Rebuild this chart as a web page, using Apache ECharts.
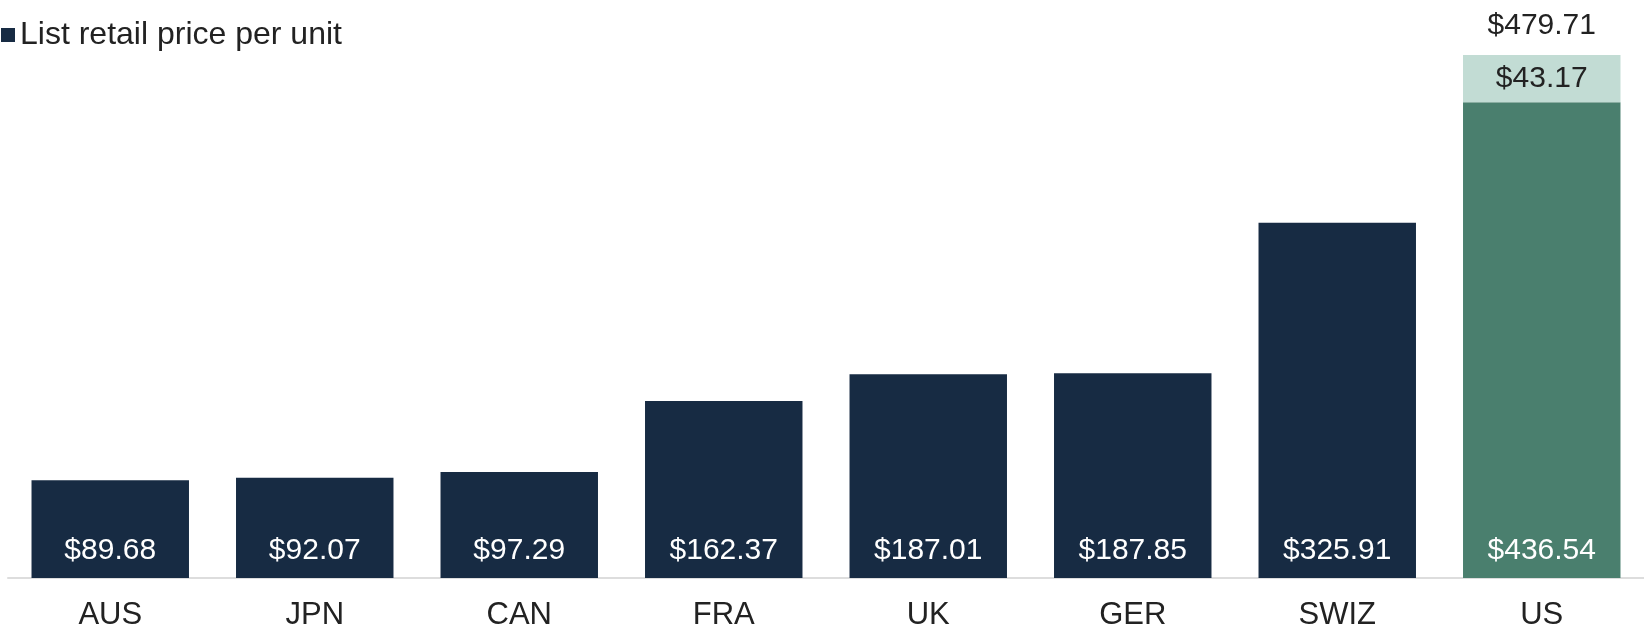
<!DOCTYPE html>
<html>
<head>
<meta charset="utf-8">
<script src="https://cdn.jsdelivr.net/npm/echarts@6/dist/echarts.min.js"></script>
<style>
  html, body { margin: 0; padding: 0; background: #fff; }
  #chart { width: 1644px; height: 630px; }
</style>
</head>
<body>
<div id="chart"></div>
<script>
const categories = ["AUS", "JPN", "CAN", "FRA", "UK", "GER", "SWIZ", "US"];
const listPrice = [89.68, 92.07, 97.29, 162.37, 187.01, 187.85, 325.91, 436.54];
const extraPrice = [null, null, null, null, null, null, null, 43.17];

const navy = "#172B43";
const green = "#4A7F6E";
const lightGreen = "#C2DCD4";
const fontFamily = "'Liberation Sans', Arial, sans-serif";

const fmt = (v) => "$" + v.toFixed(2);
const totals = listPrice.map((v, i) => (extraPrice[i] == null ? null : v + extraPrice[i]));

const chart = echarts.init(document.getElementById("chart"));

chart.setOption({
  animation: false,
  textStyle: { fontFamily },
  legend: {
    data: ["List retail price per unit"],
    left: -4,
    top: 14,
    icon: "rect",
    itemWidth: 14,
    itemHeight: 14,
    textStyle: { fontSize: 32, color: "#222", fontFamily }
  },
  grid: { left: 8, right: 0, top: 33, bottom: 52, outerBoundsMode: "none", containLabel: false },
  xAxis: {
    type: "category",
    data: categories,
    axisLine: { lineStyle: { color: "#dddddd", width: 2 } },
    axisTick: { show: false },
    axisLabel: { fontSize: 31, color: "#222", margin: 22, fontFamily }
  },
  yAxis: {
    type: "value",
    min: 0,
    max: 500,
    show: false,
    splitLine: { show: false }
  },
  series: [
    {
      name: "List retail price per unit",
      type: "bar",
      stack: "price",
      barWidth: "77%",
      itemStyle: { color: navy },
      data: listPrice.map((v, i) => ({
        value: v,
        itemStyle: { color: i === categories.length - 1 ? green : navy }
      })),
      label: {
        show: true,
        position: "insideBottom",
        distance: 12,
        fontSize: 30,
        color: "#fff",
        fontFamily,
        formatter: (p) => fmt(p.value)
      }
    },
    {
      name: "Extra",
      type: "bar",
      stack: "price",
      itemStyle: { color: lightGreen },
      data: extraPrice,
      label: {
        show: true,
        position: "inside",
        fontSize: 30,
        color: "#222",
        fontFamily,
        formatter: (p) => (p.value == null ? "" : fmt(p.value))
      }
    },
    {
      name: "Total",
      type: "bar",
      stack: "price",
      itemStyle: { color: "transparent" },
      data: totals.map((t) => (t == null ? null : 0)),
      label: {
        show: true,
        position: "top",
        distance: 14,
        fontSize: 30,
        color: "#222",
        fontFamily,
        formatter: (p) => (totals[p.dataIndex] == null ? "" : fmt(totals[p.dataIndex]))
      }
    }
  ]
});
</script>
</body>
</html>
